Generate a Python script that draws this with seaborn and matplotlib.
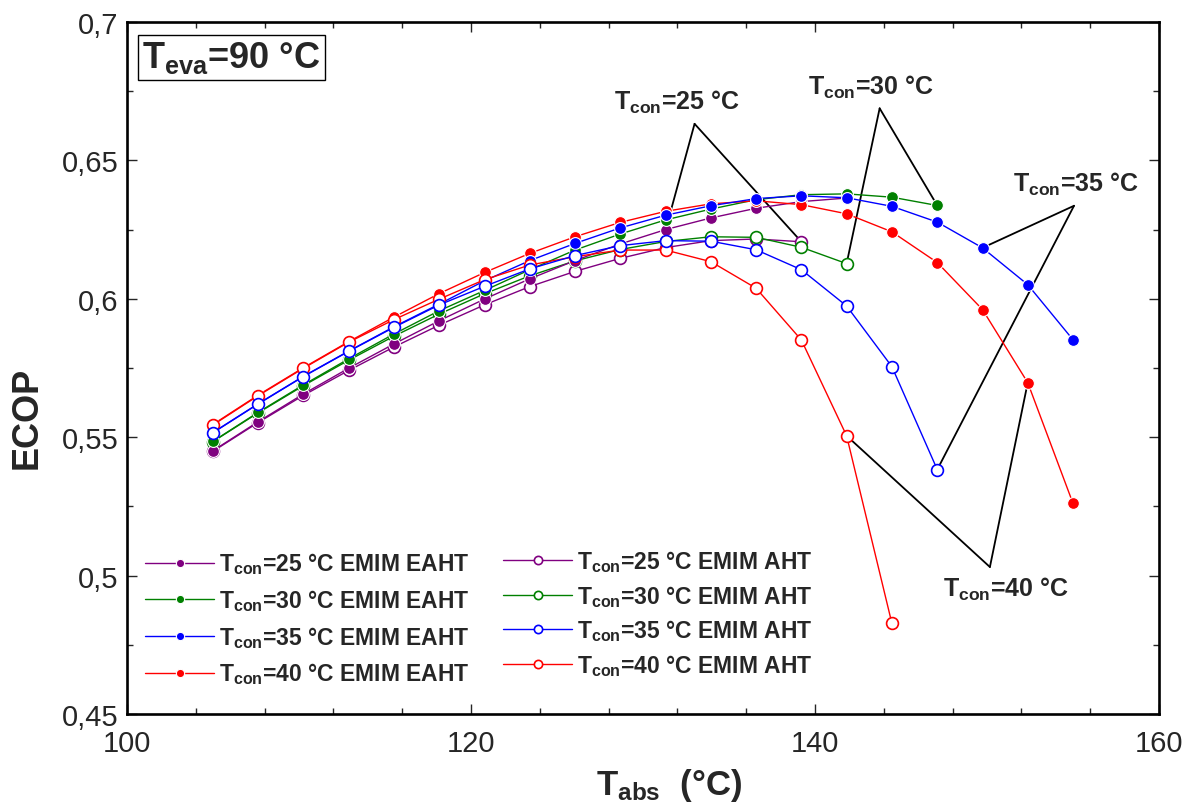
import matplotlib
matplotlib.use("Agg")
import matplotlib.pyplot as plt
import pandas as pd
import seaborn as sns
from matplotlib.ticker import MultipleLocator, FuncFormatter

# Absorber temperature (°C), common to every series
t_abs = [105.0, 107.63, 110.26, 112.89, 115.53, 118.16, 120.79, 123.42, 126.05, 128.68,
         131.32, 133.95, 136.58, 139.21, 141.84, 144.47, 147.11, 149.74, 152.37, 155.0]

# EMIM EAHT (filled markers)
eaht_25 = [0.5451, 0.5556, 0.5656, 0.5749, 0.5837, 0.5921, 0.5999, 0.6072, 0.6138, 0.6198,
           0.6250, 0.6292, 0.6327, 0.6351, 0.6364]
eaht_30 = [0.5485, 0.5590, 0.5689, 0.5783, 0.5873, 0.5957, 0.6030, 0.6105, 0.6176, 0.6234,
           0.6285, 0.6324, 0.6358, 0.6376, 0.6379, 0.6367, 0.6337]
eaht_35 = [0.5517, 0.5621, 0.5720, 0.5811, 0.5899, 0.5981, 0.6065, 0.6138, 0.6200, 0.6256,
           0.6302, 0.6336, 0.6362, 0.6372, 0.6365, 0.6334, 0.6277, 0.6184, 0.6051, 0.5852]
eaht_40 = [0.5546, 0.5652, 0.5751, 0.5845, 0.5934, 0.6019, 0.6095, 0.6164, 0.6224, 0.6276,
           0.6316, 0.6343, 0.6354, 0.6340, 0.6307, 0.6242, 0.6131, 0.5961, 0.5697, 0.5261]

# EMIM AHT (open markers)
aht_25 = [0.5449, 0.5553, 0.5651, 0.5741, 0.5826, 0.5905, 0.5978, 0.6044, 0.6099, 0.6146,
          0.6185, 0.6210, 0.6216, 0.6206]
aht_30 = [0.5484, 0.5588, 0.5686, 0.5778, 0.5865, 0.5945, 0.6018, 0.6083, 0.6137, 0.6178,
          0.6207, 0.6224, 0.6222, 0.6186, 0.6127]
aht_35 = [0.5516, 0.5620, 0.5719, 0.5810, 0.5897, 0.5978, 0.6045, 0.6108, 0.6156, 0.6192,
          0.6210, 0.6208, 0.6177, 0.6105, 0.5974, 0.5755, 0.5383]
aht_40 = [0.5544, 0.5650, 0.5749, 0.5843, 0.5925, 0.5999, 0.6069, 0.6122, 0.6152, 0.6176,
          0.6176, 0.6134, 0.6038, 0.5851, 0.5505, 0.4828]

t_con = [25, 30, 35, 40]
colores = {25: "#800080", 30: "#008000", 35: "#0000FF", 40: "#FF0000"}

sns.set_theme(style="ticks")
plt.rcParams["font.family"] = ["Liberation Sans", "DejaVu Sans"]
plt.rcParams["mathtext.fontset"] = "custom"
plt.rcParams["mathtext.rm"] = "Liberation Sans"
plt.rcParams["mathtext.bf"] = "Liberation Sans:bold"
plt.rcParams["mathtext.default"] = "bf"

fig = plt.figure(figsize=(11.92, 8.03), dpi=100)
ax = fig.add_axes([0.1065, 0.1096, 0.8658, 0.8618])

handles = {}

def serie(y, tc, abierto):
    df = pd.DataFrame({"T": t_abs[:len(y)], "ECOP": y})
    c = colores[tc]
    if abierto:
        kw = dict(markerfacecolor="white", markeredgecolor=c, markeredgewidth=1.2)
        nombre = f"T$_{{con}}$={tc} °C EMIM AHT"
    else:
        kw = dict(markerfacecolor=c, markeredgecolor="white", markeredgewidth=0.8)
        nombre = f"T$_{{con}}$={tc} °C EMIM EAHT"
    sns.lineplot(data=df, x="T", y="ECOP", color=c, linewidth=1.0, marker="o",
                 markersize=8.5, label=nombre, legend=False, ax=ax, zorder=3, **kw)
    handles[nombre] = ax.lines[-1]

# drawing order so that overlaps look like the original
serie(aht_25, 25, True)
serie(aht_30, 30, True)
serie(eaht_25, 25, False)
serie(eaht_30, 30, False)
serie(eaht_40, 40, False)
serie(eaht_35, 35, False)
serie(aht_40, 40, True)
serie(aht_35, 35, True)

ax.set_xlim(100, 160)
ax.set_ylim(0.45, 0.7)
ax.xaxis.set_major_locator(MultipleLocator(20))
ax.xaxis.set_minor_locator(MultipleLocator(4))
ax.yaxis.set_major_locator(MultipleLocator(0.05))
ax.yaxis.set_minor_locator(MultipleLocator(0.025))
ax.yaxis.set_major_formatter(FuncFormatter(lambda v, p: f"{v:g}".replace(".", ",")))
ax.tick_params(which="both", direction="in", top=True, right=True, width=1.0, labelsize=21)
ax.tick_params(which="major", length=7)
ax.tick_params(which="minor", length=4.5)
ax.tick_params(axis="x", pad=11)
ax.tick_params(axis="y", pad=6)
for s in ax.spines.values():
    s.set_linewidth(1.9)
    s.set_color("black")
ax.set_xlabel("")
ax.set_ylabel("")

fig.text(26.7 / 1192, 1 - 418 / 803, "ECOP", rotation=90, ha="center", va="center",
         fontsize=26, fontweight="bold")
fig.text(669 / 1192, 1 - 786 / 803, "T$_{abs}$  (°C)", ha="center", va="center",
         fontsize=25, fontweight="bold")

ax.text(0.0145, 0.9751, "T$_{eva}$=90 °C", transform=ax.transAxes, ha="left", va="top",
        fontsize=26, fontweight="bold",
        bbox=dict(boxstyle="square,pad=0.12", facecolor="white", edgecolor="black", linewidth=1.0))

# leader lines for the T_con labels
linea = dict(arrowstyle="-", color="black", linewidth=1.3, shrinkA=0, shrinkB=0)
etiquetas = [
    (25, (128.31, 0.6686), (133.0, 0.6632), [(t_abs[10], eaht_25[10]), (t_abs[13], aht_25[13])]),
    (30, (139.59, 0.6740), (143.76, 0.6688), [(t_abs[16], eaht_30[16]), (t_abs[14], aht_30[14])]),
    (35, (151.50, 0.6391), (155.06, 0.6336), [(t_abs[17], eaht_35[17]), (t_abs[16], aht_35[16])]),
    (40, (147.42, 0.4927), (150.17, 0.5031), [(t_abs[14], aht_40[14]), (t_abs[18], eaht_40[18])]),
]
for tc, pos_txt, nudo, puntos in etiquetas:
    ax.text(pos_txt[0], pos_txt[1], f"T$_{{con}}$={tc} °C", ha="left", va="baseline",
            fontsize=18, fontweight="bold")
    for p in puntos:
        ax.annotate("", xy=p, xytext=nudo, arrowprops=linea, zorder=2)

orden1 = [f"T$_{{con}}$={tc} °C EMIM EAHT" for tc in t_con]
orden2 = [f"T$_{{con}}$={tc} °C EMIM AHT" for tc in t_con]
ley_kw = dict(frameon=False, loc="center left", borderpad=0, handlelength=3.0,
              handletextpad=0.2, markerscale=0.7, prop={"size": 16.5, "weight": "bold"})
ley1 = ax.legend([handles[k] for k in orden1], orden1, bbox_to_anchor=(0.0068, 0.1380),
                 labelspacing=0.47, **ley_kw)
ax.add_artist(ley1)
ax.legend([handles[k] for k in orden2], orden2, bbox_to_anchor=(0.3537, 0.1457),
          labelspacing=0.38, **ley_kw)

plt.savefig("out.png", dpi=100)
